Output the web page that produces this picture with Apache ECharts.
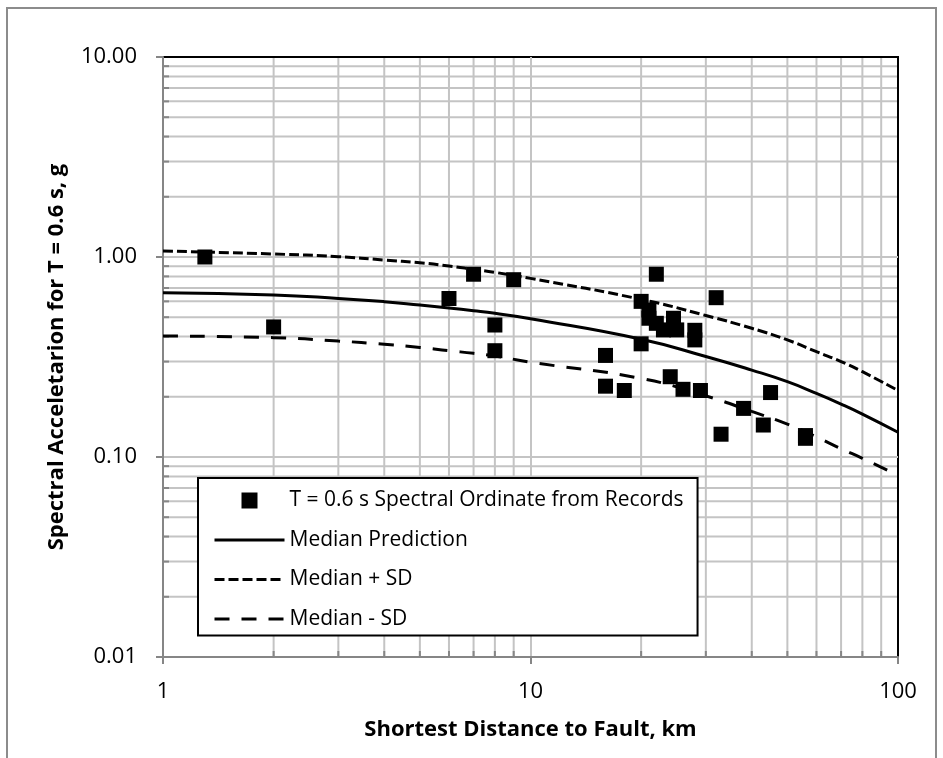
<!DOCTYPE html>
<html><head><meta charset="utf-8">
<script src="https://cdn.jsdelivr.net/npm/echarts@6/dist/echarts.min.js"></script>
<style>html,body{margin:0;padding:0;background:#fff}#c{width:943px;height:758px}</style>
</head><body><div id="c"></div>
<script>
// Recorded spectral ordinates (distance km, Sa g)
const recordDist = [1.3, 2, 6, 7, 8, 8, 9, 16, 16, 18, 20, 20, 21, 21, 22, 22, 23, 24, 24.5, 25, 26, 28, 28, 29, 32, 33, 38, 43, 45, 56, 56];
const recordSa   = [1.0, 0.447, 0.62, 0.82, 0.457, 0.34, 0.77, 0.322, 0.226, 0.215, 0.60, 0.368, 0.543, 0.494, 0.466, 0.82, 0.432, 0.252, 0.494, 0.432, 0.218, 0.43, 0.385, 0.215, 0.626, 0.130, 0.175, 0.1445, 0.210, 0.128, 0.124];
// Prediction curves
const curveDist  = [1, 2, 3, 4, 5, 6, 7, 8, 10, 20, 30, 40, 50, 60, 70, 80, 100];
const medianSa   = [0.663, 0.646, 0.621, 0.598, 0.575, 0.556, 0.539, 0.523, 0.491, 0.388, 0.318, 0.272, 0.238, 0.208, 0.184, 0.164, 0.133];
const plusSdSa   = [1.072, 1.035, 1.004, 0.966, 0.936, 0.902, 0.868, 0.838, 0.782, 0.614, 0.510, 0.440, 0.385, 0.336, 0.300, 0.267, 0.215];
const minusSdSa  = [0.403, 0.395, 0.380, 0.366, 0.353, 0.340, 0.330, 0.320, 0.298, 0.247, 0.202, 0.169, 0.146, 0.126, 0.110, 0.0985, 0.081];
// Minor grid positions (log axes)
const minorX = [2, 3, 4, 5, 6, 7, 8, 9, 20, 30, 40, 50, 60, 70, 80, 90];
const minorY = [0.02, 0.03, 0.04, 0.05, 0.06, 0.07, 0.08, 0.09, 0.2, 0.3, 0.4, 0.5, 0.6, 0.7, 0.8, 0.9, 2, 3, 4, 5, 6, 7, 8, 9];
const xRange = [1, 100];
const yRange = [0.01, 10];
const seriesNames = ['T = 0.6 s Spectral Ordinate from Records', 'Median Prediction', 'Median + SD', 'Median - SD'];
const xTitle = 'Shortest Distance to Fault, km';
const yTitle = 'Spectral Acceletarion for T = 0.6 s, g';

const GRID_C = '#c4c4c4', AXIS_C = '#868686', FONT = 'Open Sans';
const chart = echarts.init(document.getElementById('c'));

function zipXY(xs, ys) { return xs.map((x, i) => [x, ys[i]]); }

chart.setOption({
  animation: false,
  backgroundColor: '#fff',
  graphic: [{
    type: 'rect', silent: true, z: -10,
    shape: { x: 7, y: 8, width: 929, height: 770 },
    style: { fill: 'none', stroke: '#8c8c8c', lineWidth: 2 }
  }],
  grid: { left: 163, top: 57, right: 45, bottom: 101, show: true, borderColor: '#000', borderWidth: 2, backgroundColor: 'transparent' },
  legend: {
    orient: 'vertical', left: 198, top: 478,
    itemWidth: 70, itemHeight: 16, itemGap: 18.5,
    padding: [12, 14, 6, 15],
    borderColor: '#000', borderWidth: 2, backgroundColor: '#fff',
    symbolKeepAspect: true,
    lineStyle: { width: 3 },
    textStyle: { fontFamily: FONT, fontSize: 21, color: '#000' },
    data: [
      { name: seriesNames[0], icon: 'path://M0,0H10V10H0Z' },
      { name: seriesNames[1], itemStyle: { opacity: 0 } },
      { name: seriesNames[2], itemStyle: { opacity: 0 } },
      { name: seriesNames[3], itemStyle: { opacity: 0 } }
    ],
    selectedMode: false
  },
  xAxis: {
    type: 'log', logBase: 10, min: xRange[0], max: xRange[1],
    name: xTitle, nameLocation: 'middle', nameGap: 62,
    nameTextStyle: { fontFamily: FONT, fontSize: 22, fontWeight: 'bold', color: '#000' },
    axisLine: { lineStyle: { color: AXIS_C, width: 2 } },
    axisTick: { show: true, length: 7, lineStyle: { color: AXIS_C, width: 2 } },
    axisLabel: { fontFamily: FONT, fontSize: 22, color: '#000', margin: 24, formatter: v => String(Math.round(v)) },
    splitLine: { show: true, showMinLine: false, showMaxLine: false, lineStyle: { color: GRID_C, width: 2 } }
  },
  yAxis: {
    type: 'log', logBase: 10, min: yRange[0], max: yRange[1],
    name: yTitle, nameLocation: 'middle', nameGap: 95,
    nameTextStyle: { fontFamily: FONT, fontSize: 22, fontWeight: 'bold', color: '#000' },
    axisLine: { lineStyle: { color: AXIS_C, width: 2 } },
    axisTick: { show: true, length: 7, lineStyle: { color: AXIS_C, width: 2 } },
    axisLabel: { fontFamily: FONT, fontSize: 22, color: '#000', margin: 26, formatter: v => Number(v).toFixed(2) },
    splitLine: { show: true, showMinLine: false, showMaxLine: false, lineStyle: { color: GRID_C, width: 2 } }
  },
  series: [
    {
      type: 'custom', silent: true, z: 1, legendHoverLink: false,
      data: minorX.map(v => [v, 1]),
      renderItem: (params, api) => {
        const v = api.value(0);
        const t = api.coord([v, yRange[1]]), b = api.coord([v, yRange[0]]);
        return { type: 'group', children: [
          { type: 'line', shape: { x1: t[0], y1: t[1] + 1, x2: b[0], y2: b[1] - 1 }, style: { stroke: GRID_C, lineWidth: 2 } },
          { type: 'line', shape: { x1: b[0], y1: b[1] - 1, x2: b[0], y2: b[1] - 6 }, style: { stroke: AXIS_C, lineWidth: 2 } }
        ] };
      }
    },
    {
      type: 'custom', silent: true, z: 1, legendHoverLink: false,
      data: minorY.map(v => [1, v]),
      renderItem: (params, api) => {
        const v = api.value(1);
        const l = api.coord([xRange[0], v]), r = api.coord([xRange[1], v]);
        return { type: 'group', children: [
          { type: 'line', shape: { x1: l[0] + 1, y1: l[1], x2: r[0] - 1, y2: r[1] }, style: { stroke: GRID_C, lineWidth: 2 } },
          { type: 'line', shape: { x1: l[0] + 1, y1: l[1], x2: l[0] + 6, y2: l[1] }, style: { stroke: AXIS_C, lineWidth: 2 } }
        ] };
      }
    },
    {
      name: seriesNames[0], type: 'scatter', symbol: 'rect', symbolSize: 15, z: 3,
      itemStyle: { color: '#000', opacity: 1 },
      data: zipXY(recordDist, recordSa)
    },
    {
      name: seriesNames[1], type: 'line', smooth: true, symbol: 'none', showSymbol: false, z: 4,
      lineStyle: { color: '#000', width: 3, type: 'solid' }, itemStyle: { color: '#000' },
      data: zipXY(curveDist, medianSa)
    },
    {
      name: seriesNames[2], type: 'line', smooth: true, symbol: 'none', showSymbol: false, z: 4,
      lineStyle: { color: '#000', width: 3, type: [10, 4] }, itemStyle: { color: '#000' },
      data: zipXY(curveDist, plusSdSa)
    },
    {
      name: seriesNames[3], type: 'line', smooth: true, symbol: 'none', showSymbol: false, z: 4,
      lineStyle: { color: '#000', width: 3, type: [15, 12] }, itemStyle: { color: '#000' },
      data: zipXY(curveDist, minusSdSa)
    }
  ]
});
</script></body></html>
